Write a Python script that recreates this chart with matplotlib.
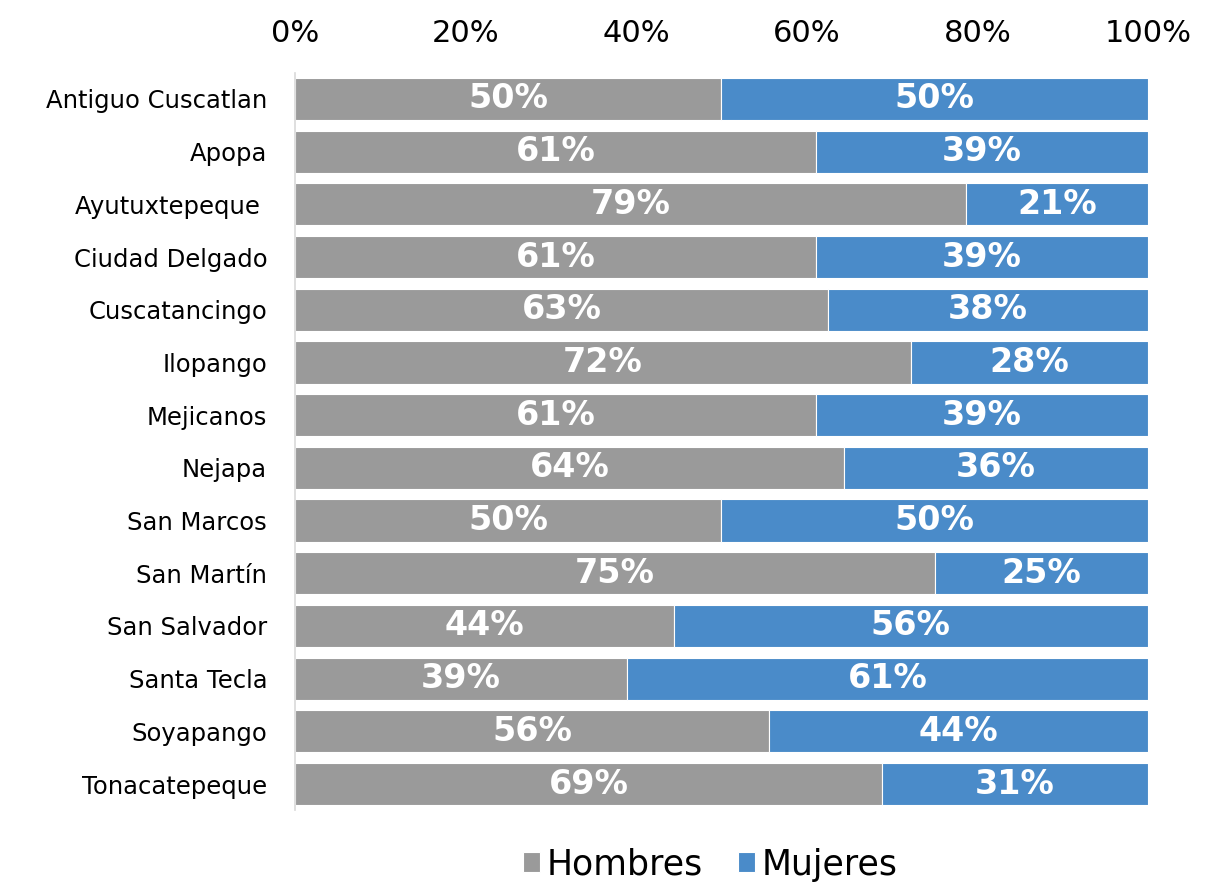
import matplotlib
matplotlib.use("Agg")
import matplotlib.pyplot as plt
import math

plt.rcParams['font.family'] = ['DejaVu Sans']

municipios = ["Antiguo Cuscatlan", "Apopa", "Ayutuxtepeque ", "Ciudad Delgado",
              "Cuscatancingo", "Ilopango", "Mejicanos", "Nejapa", "San Marcos",
              "San Martín", "San Salvador", "Santa Tecla", "Soyapango", "Tonacatepeque"]
hombres = [50.0, 61.1, 78.7, 61.1, 62.5, 72.2, 61.1, 64.4, 50.0, 75.0, 44.4, 38.9, 55.6, 68.8]
mujeres = [50.0, 38.9, 21.3, 38.9, 37.5, 27.8, 38.9, 35.6, 50.0, 25.0, 55.6, 61.1, 44.4, 31.2]
series_names = ["Hombres", "Mujeres"]
xticks = [0, 20, 40, 60, 80, 100]

c_h = "#9A9A9A"
c_m = "#4A8BC9"

fig = plt.figure(figsize=(12.08, 8.84), dpi=100)
ax = fig.add_axes([0.2442, 0.0833, 0.7061, 0.8346])

y = list(range(len(municipios)))
b1 = ax.barh(y, hombres, height=0.8, color=c_h, edgecolor="white", linewidth=0.8, label=series_names[0])
b2 = ax.barh(y, mujeres, left=hombres, height=0.8, color=c_m, edgecolor="white", linewidth=0.8, label=series_names[1])

def lab(v):
    return f"{int(math.floor(v + 0.5))}%"

for i in y:
    ax.text(hombres[i] / 2, i, lab(hombres[i]), ha="center", va="center",
            color="white", fontsize=24, fontweight="bold")
    ax.text(hombres[i] + mujeres[i] / 2, i, lab(mujeres[i]), ha="center", va="center",
            color="white", fontsize=24, fontweight="bold")

ax.set_xlim(0, 100)
ax.set_ylim(len(municipios) - 0.5, -0.5)
ax.set_yticks(y)
ax.set_yticklabels(municipios, fontsize=17.5)
ax.set_xticks(xticks)
ax.set_xticklabels([f"{t}%" for t in xticks], fontsize=22)
ax.xaxis.tick_top()
ax.tick_params(axis="x", length=0, pad=18)
ax.tick_params(axis="y", length=0, pad=20)
for s in ["top", "right", "bottom"]:
    ax.spines[s].set_visible(False)
ax.spines["left"].set_color("#D9D9D9")
ax.spines["left"].set_linewidth(1.2)

fig.legend(handles=[b1, b2], labels=series_names, loc="center", bbox_to_anchor=(0.588, 0.022),
           ncol=2, frameon=False, fontsize=25, handlelength=0.5, handleheight=0.5,
           handletextpad=0.2, columnspacing=1.0)

fig.savefig("out.png", dpi=100)
